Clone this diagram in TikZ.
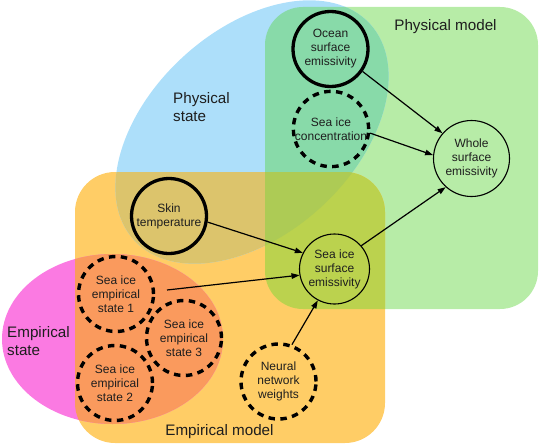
\documentclass[tikz,border=0pt]{standalone}
\usepackage{fontspec}
\setmainfont{Liberation Sans}
\usetikzlibrary{arrows.meta}
\definecolor{cgreen}{HTML}{B7ECA7}
\definecolor{corange}{HTML}{FFCD66}
\definecolor{cblue}{HTML}{ADDFFA}
\definecolor{cpink}{HTML}{FB7AE2}
\definecolor{cbluegreen}{HTML}{88DAA9}
\definecolor{ctan}{HTML}{DCC46C}
\definecolor{corgreen}{HTML}{BBD24E}
\definecolor{ctriple}{HTML}{ADCB55}
\definecolor{csalmon}{HTML}{FA9A5D}
\definecolor{ctext}{HTML}{1E1E1E}
\begin{document}
\begin{tikzpicture}[x=1pt,y=-1pt,
  blueell/.style={shift={(252,132)},rotate=42.5},
  greenbox/.style={rounded corners=38pt},
  orangebox/.style={rounded corners=40pt},
  lbl/.style={font=\fontsize{15.2}{18}\selectfont, text=ctext, inner sep=0pt},
  nd/.style={circle, minimum size=75pt, inner sep=0pt, align=center, font=\fontsize{12}{14}\selectfont, text=ctext},
  solidthick/.style={nd, draw=black, line width=3.3pt},
  dashthick/.style={nd, draw=black, line width=3.4pt, dash pattern=on 6.5pt off 5.4pt},
  thinnd/.style={nd, draw=black, line width=1.1pt},
  arr/.style={-{Triangle[length=8pt,width=5.5pt]}, line width=1.2pt, draw=black}]
\useasboundingbox (0,0) rectangle (540,444);
% base regions
\fill[cgreen, greenbox] (265,7) rectangle (538,309);
\fill[corange, orangebox] (75,172) rectangle (385,443);
\fill[cblue, blueell] (0,0) ellipse [x radius=160pt, y radius=102pt];
\fill[cpink] (112.5,339) ellipse [x radius=110.5pt, y radius=85pt];
% overlaps with the empirical model box
\begin{scope}
  \clip[orangebox] (75,172) rectangle (385,443);
  \fill[ctan, blueell] (0,0) ellipse [x radius=160pt, y radius=102pt];
  \fill[csalmon] (112.5,339) ellipse [x radius=110.5pt, y radius=85pt];
\end{scope}
% overlaps with the physical model box
\begin{scope}
  \clip[greenbox] (265,7) rectangle (538,309);
  \fill[cbluegreen, blueell] (0,0) ellipse [x radius=160pt, y radius=102pt];
  \fill[corgreen, orangebox] (75,172) rectangle (385,443);
  \clip[orangebox] (75,172) rectangle (385,443);
  \fill[ctriple, blueell] (0,0) ellipse [x radius=160pt, y radius=102pt];
\end{scope}
% region labels
\node[lbl, anchor=base] (pm) at (445.5,30.5) {Physical model};
\node[lbl, anchor=base west, align=left] (ps) at (173,121.5) {Physical\\state};
\node[lbl, anchor=base west, align=left] (es) at (7,355) {Empirical\\state};
\node[lbl, anchor=base] (em) at (219.5,435) {Empirical model};
% nodes
\node[solidthick] (ocean) at (330.5,49) {Ocean\\surface\\emissivity};
\node[dashthick] (conc) at (331,129) {Sea ice\\concentration};
\node[thinnd, minimum size=76pt] (whole) at (471.5,158.5) {Whole\\surface\\emissivity};
\node[thinnd, minimum size=70pt] (seasurf) at (334.5,269) {Sea ice\\surface\\emissivity};
\node[solidthick] (skin) at (169,216) {Skin\\temperature};
\node[dashthick] (emp1) at (116,294) {Sea ice\\empirical\\state 1};
\node[dashthick] (emp2) at (115,383) {Sea ice\\empirical\\state 2};
\node[dashthick] (emp3) at (184,338) {Sea ice\\empirical\\state 3};
\node[dashthick] (nnw) at (278.5,381.5) {Neural\\network\\weights};
\coordinate (empout) at (167,290);
% connectors
\draw[arr] (ocean.-35) -- (whole.139);
\draw[arr] (conc.-6) -- (whole.175);
\draw[arr] (seasurf.41) -- (whole.228);
\draw[arr] (skin.-9) -- (seasurf.153);
\draw[arr] (empout) -- (seasurf.190);
\draw[arr] (nnw.70) -- (seasurf.242);
\end{tikzpicture}
\end{document}
